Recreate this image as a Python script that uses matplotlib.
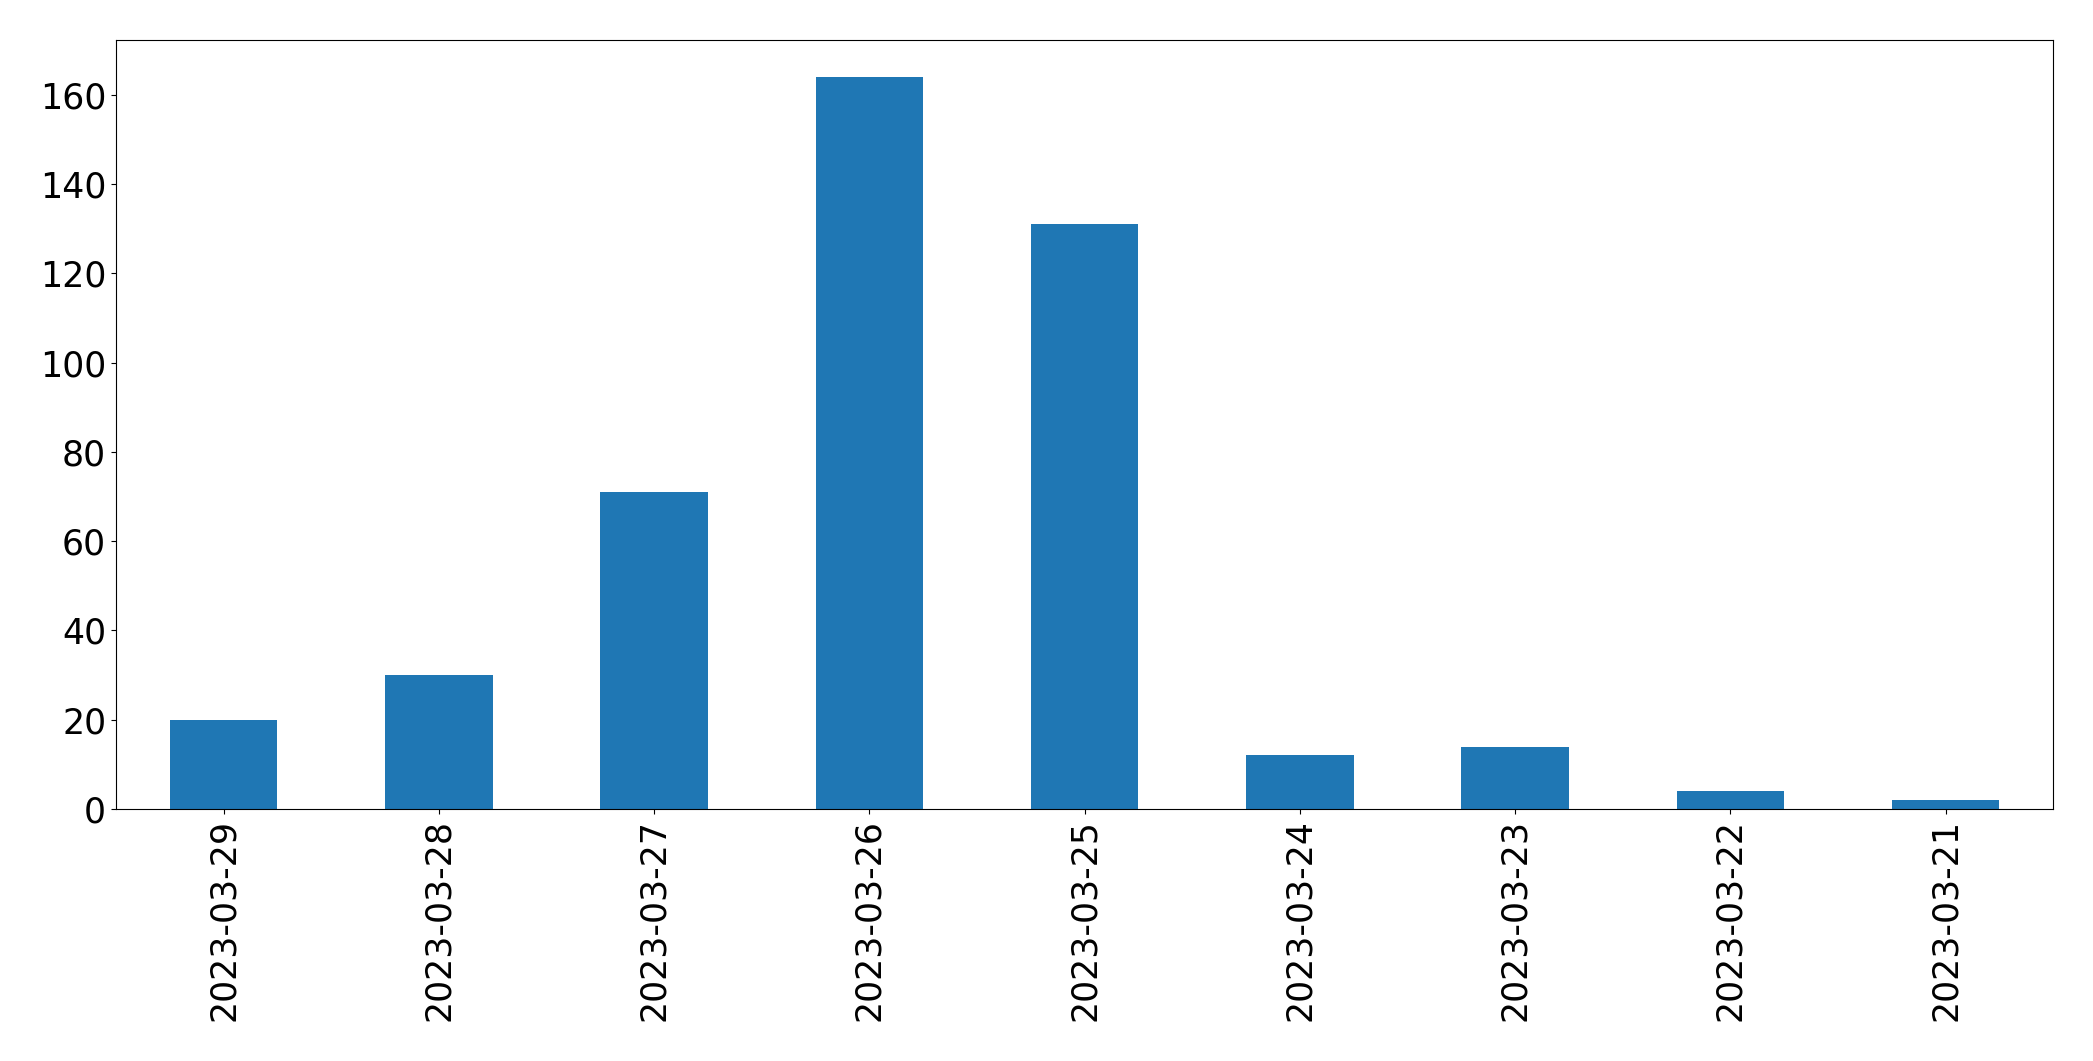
import matplotlib
matplotlib.use('Agg')
import matplotlib.pyplot as plt

# daily counts, newest first
dates = ['2023-03-29', '2023-03-28', '2023-03-27', '2023-03-26', '2023-03-25',
         '2023-03-24', '2023-03-23', '2023-03-22', '2023-03-21']
counts = [20, 30, 71, 164, 131, 12, 14, 4, 2]

fig = plt.figure(figsize=(20.93, 10.61), dpi=100)
ax = fig.add_axes([0.0554, 0.2375, 0.9256, 0.7245])

x = range(len(dates))
ax.bar(x, counts, width=0.5, color='#1f77b4')
ax.set_xticks(list(x))
ax.set_xticklabels(dates, rotation=90)
ax.set_xlim(-0.5, len(dates) - 0.5)
ax.set_ylim(0, 172.2)
ax.tick_params(axis='both', labelsize=25)

plt.savefig('out.png', dpi=100)
